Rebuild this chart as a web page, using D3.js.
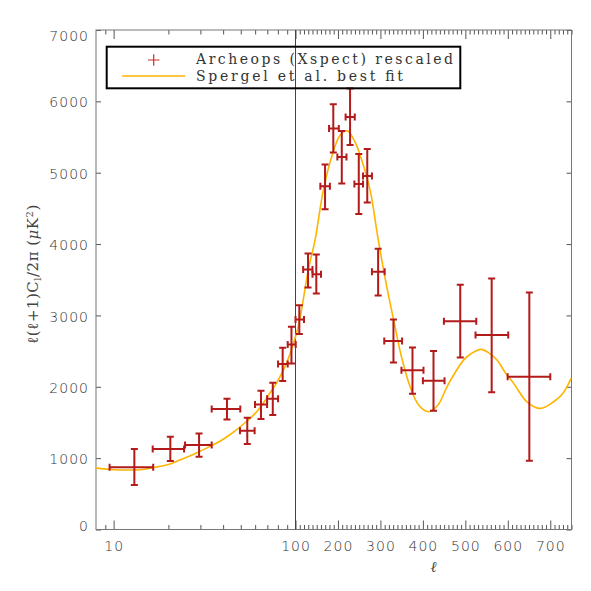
<!DOCTYPE html>
<html>
<head>
<meta charset="utf-8">
<script src="https://cdn.jsdelivr.net/npm/d3@7"></script>
<style>
  body { margin: 0; background: #fff; }
  .tick text { font-family: 'DejaVu Sans', sans-serif; font-size: 14px; font-weight: 200; fill: #333; letter-spacing: 1px; }
</style>
</head>
<body>
<script>
// Archeops band powers
const ell = [13, 20.5, 29.5, 42, 54.3, 64.6, 75, 85, 95, 109, 129.5, 149, 169.6, 189, 209, 228.5, 249, 269, 294.6, 330.7, 375.5, 425, 488, 562, 650.7]
const ellMin = [9.5, 16.4, 24.7, 34.6, 49.5, 59.9, 69.8, 80.2, 90.6, 100, 118, 140, 158.5, 179, 198.6, 218, 238.7, 259, 280, 309, 349.5, 400, 449.5, 524, 599.6]
const ellMax = [16.5, 24.4, 34.6, 49.7, 59.6, 69.8, 80.2, 90.6, 100.5, 120, 140, 160, 181, 202, 220, 239.6, 259, 280, 310, 351, 401.4, 451, 525.7, 601, 700]
const power = [871, 1127, 1183, 1688, 1384, 1753, 1832, 2318, 2594, 2944, 3644, 3578, 4811, 5619, 5221, 5782, 4843, 4955, 3611, 2640, 2230, 2084, 2920, 2724, 2140]
const powerLow = [623, 959, 1020, 1543, 1197, 1548, 1604, 2080, 2328, 2738, 3392, 3308, 4489, 5283, 4849, 5390, 4423, 4583, 3280, 2342, 1902, 1664, 2412, 1922, 963]
const powerHigh = [1127, 1300, 1347, 1832, 1566, 1944, 2056, 2546, 2840, 3144, 3868, 3854, 5115, 5960, 5586, 6180, 5264, 5334, 3933, 2944, 2552, 2500, 3429, 3518, 3322]

// best fit model curve
const fitEll = [8, 10, 11.65, 14, 16.4, 20, 23, 27, 32.2, 38, 43.4, 53.6, 60, 66.3, 72, 78.5, 89.1, 100, 110.6, 130, 146, 165.6, 185, 205, 222, 240, 256, 275.7, 295, 315, 330.7, 350, 370, 390, 413, 435, 456.6, 475, 495.8, 515, 536.7, 555, 574.5, 595, 613.7, 645, 676.7, 708, 730, 749]
const fitPower = [860, 838, 833, 838, 866, 910, 973, 1045, 1137, 1230, 1324, 1510, 1627, 1767, 1905, 2048, 2328, 2700, 2958, 3634, 4055, 4755, 5221, 5525, 5586, 5432, 5175, 4755, 4055, 3400, 2950, 2410, 2000, 1745, 1650, 1740, 2000, 2190, 2374, 2470, 2524, 2476, 2374, 2190, 2048, 1790, 1697, 1790, 1910, 2118]

const yTicks = [0, 1000, 2000, 3000, 4000, 5000, 6000, 7000]
const logMajor = [10, 100]
const logMinor = [9, 20, 30, 40, 50, 60, 70, 80, 90]
const linMajor = [100, 200, 300, 400, 500, 600, 700]
const legendLabels = ['Archeops (Xspect) rescaled', 'Spergel et al. best fit']

const red = '#b31b1b'
const gold = '#ffb400'

const W = 591, H = 591
const plotLeft = 96, plotRight = 571.5, plotTop = 30, plotBottom = 529.5
const split = 295.5

const svg = d3.select('body').append('svg')
  .attr('width', W)
  .attr('height', H)
  .style('font-family', "'DejaVu Serif', serif")

const xLog = d3.scaleLog().domain([8, 100]).range([plotLeft, split])
const xLin = d3.scaleLinear().domain([100, 750]).range([split, plotRight])
const x = v => v <= 100 ? xLog(v) : xLin(v)
const y = d3.scaleLinear().domain([0, 7000]).range([plotBottom, plotTop])

// axes
function drawXAxis (g, scale, values, size, labels, orient) {
  const axis = (orient === 'top' ? d3.axisTop(scale) : d3.axisBottom(scale))
    .tickValues(values)
    .tickSizeInner(-size)
    .tickSizeOuter(0)
    .tickPadding(12)
    .tickFormat(labels ? d3.format('d') : '')
  g.call(axis)
  g.select('.domain').remove()
  g.selectAll('.tick line').attr('stroke', '#555')
}

const yPos = orient => orient === 'top' ? plotTop : plotBottom
for (const orient of ['bottom', 'top']) {
  const lab = orient === 'bottom'
  drawXAxis(svg.append('g').attr('transform', `translate(0,${yPos(orient)})`), xLog, logMajor, 9, lab, orient)
  drawXAxis(svg.append('g').attr('transform', `translate(0,${yPos(orient)})`), xLog, logMinor, 4.5, false, orient)
  drawXAxis(svg.append('g').attr('transform', `translate(0,${yPos(orient)})`), xLin, linMajor.filter(d => d > 100), 9, lab, orient)
  drawXAxis(svg.append('g').attr('transform', `translate(0,${yPos(orient)})`), xLin, d3.range(110, 751, 10).filter(d => d % 100 !== 0), 4.5, false, orient)
}

const yAxisL = svg.append('g').attr('transform', `translate(${plotLeft},0)`)
  .call(d3.axisLeft(y).tickValues(yTicks).tickSizeInner(-5).tickSizeOuter(0).tickPadding(7).tickFormat(d3.format('d')))
yAxisL.select('.domain').remove()
yAxisL.selectAll('.tick line').attr('stroke', '#555')
// the end labels sit slightly inside the frame, as in the original
yAxisL.selectAll('.tick text').attr('dy', d => d === 7000 ? '0.75em' : d === 0 ? '0.05em' : '0.4em')

const yAxisR = svg.append('g').attr('transform', `translate(${plotRight},0)`)
  .call(d3.axisRight(y).tickValues(yTicks).tickSizeInner(-5).tickSizeOuter(0).tickFormat(''))
yAxisR.select('.domain').remove()
yAxisR.selectAll('.tick line').attr('stroke', '#555')

// frame and ell = 100 divider
svg.append('rect')
  .attr('x', plotLeft).attr('y', plotTop)
  .attr('width', plotRight - plotLeft).attr('height', plotBottom - plotTop)
  .attr('fill', 'none').attr('stroke', '#777')
svg.append('line')
  .attr('x1', x(100)).attr('x2', x(100))
  .attr('y1', plotTop).attr('y2', plotBottom)
  .attr('stroke', '#444')

// best fit curve
const fit = fitEll.map((d, i) => [d, fitPower[i]])
svg.append('path')
  .datum(fit)
  .attr('fill', 'none')
  .attr('stroke', gold)
  .attr('stroke-width', 1.6)
  .attr('d', d3.line().x(d => x(d[0])).y(d => y(d[1])).curve(d3.curveCatmullRom.alpha(0.5)))

// error crosses
const cap = 3.5
const bars = svg.append('g')
  .attr('stroke', red)
  .attr('stroke-width', 2)
  .attr('fill', 'none')
ell.forEach((l, i) => {
  const cx = x(l), cy = y(power[i])
  const x0 = x(ellMin[i]), x1 = x(ellMax[i])
  const y0 = y(powerLow[i]), y1 = y(powerHigh[i])
  bars.append('path').attr('d',
    `M${x0},${cy}H${x1}` +
    `M${x0},${cy - cap}V${cy + cap}M${x1},${cy - cap}V${cy + cap}` +
    `M${cx},${y0}V${y1}` +
    `M${cx - cap},${y0}H${cx + cap}M${cx - cap},${y1}H${cx + cap}`)
})

// legend
const legend = svg.append('g')
legend.append('rect')
  .attr('x', 106.7).attr('y', 46.7)
  .attr('width', 353.6).attr('height', 41.6)
  .attr('fill', 'none').attr('stroke', '#000').attr('stroke-width', 2)
legend.append('path')
  .attr('d', 'M148,60H159.5M153.7,54.3V65.7')
  .attr('stroke', '#cc2a2a').attr('stroke-width', 1.2)
legend.append('line')
  .attr('x1', 122).attr('x2', 185.3).attr('y1', 76).attr('y2', 76)
  .attr('stroke', gold).attr('stroke-width', 1.6)
const legendWidths = [257, 207]
legendLabels.forEach((t, i) => {
  legend.append('text')
    .attr('x', 196).attr('y', 64 + i * 16.5)
    .attr('textLength', legendWidths[i])
    .attr('lengthAdjust', 'spacing')
    .style('font-size', '14px')
    .style('fill', '#333')
    .text(t)
})

// axis titles
svg.append('text')
  .attr('x', (split + plotRight) / 2).attr('y', 572)
  .attr('text-anchor', 'middle')
  .style('font-size', '15px')
  .style('font-style', 'italic')
  .style('fill', '#444')
  .text('ℓ')

const yTitle = svg.append('text')
  .attr('transform', 'translate(38,274) rotate(-90)')
  .attr('text-anchor', 'middle')
  .style('font-size', '15px')
  .style('letter-spacing', '0.5px')
  .style('fill', '#444')
yTitle.append('tspan').text('ℓ(ℓ+1)C')
yTitle.append('tspan').attr('dy', 3).style('font-size', '10px').text('l')
yTitle.append('tspan').attr('dy', -3).text('/2π  (')
yTitle.append('tspan').style('font-style', 'italic').text('μ')
yTitle.append('tspan').text('K')
yTitle.append('tspan').attr('dy', -5).style('font-size', '10px').text('2')
yTitle.append('tspan').attr('dy', 5).text(')')
</script>
</body>
</html>
